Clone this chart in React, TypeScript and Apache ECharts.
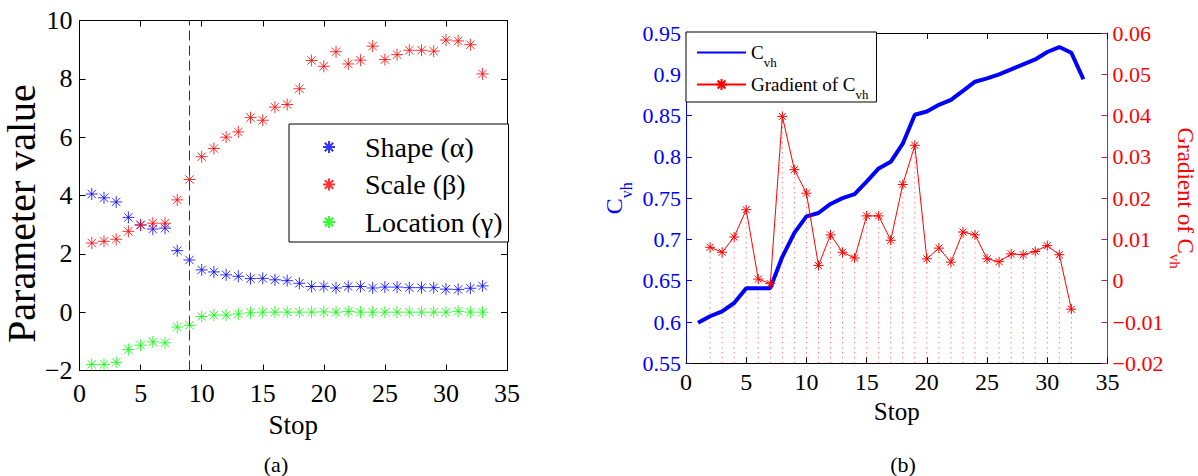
import { useEffect, useRef } from 'react';
import * as echarts from 'echarts';

const FONT = 'Liberation Serif';

// Panel (a): Weibull parameters per stop
const STOPS = [1,2,3,4,5,6,7,8,9,10,11,12,13,14,15,16,17,18,19,20,21,22,23,24,25,26,27,28,29,30,31,32,33];
const SHAPE = [4.05,3.92,3.78,3.25,2.99,2.85,2.88,2.11,1.79,1.45,1.38,1.28,1.23,1.15,1.16,1.11,1.08,0.99,0.88,0.88,0.83,0.88,0.88,0.83,0.86,0.86,0.84,0.84,0.84,0.79,0.78,0.82,0.90];
const SCALE = [2.37,2.43,2.50,2.77,2.99,3.05,3.05,3.85,4.55,5.33,5.61,6.00,6.18,6.67,6.58,7.03,7.12,7.66,8.63,8.43,8.93,8.51,8.64,9.12,8.66,8.83,8.98,8.98,8.95,9.33,9.30,9.17,8.17];
const LOCATION = [-1.79,-1.79,-1.72,-1.28,-1.13,-1.02,-1.05,-0.51,-0.45,-0.15,-0.10,-0.10,-0.06,-0.02,0,0,0,0,0,0.01,0,0.02,0,0,0,0,0,0,0,0,0.03,0,0];
const SPLIT_STOP = 9;
const SERIES_A = ['Shape (α)', 'Scale (β)', 'Location (γ)'];

// Panel (b): C_vh and its gradient
const CVH_STOPS = [1,2,3,4,5,6,7,8,9,10,11,12,13,14,15,16,17,18,19,20,21,22,23,24,25,26,27,28,29,30,31,32,33];
const CVH = [0.599,0.607,0.613,0.623,0.641,0.641,0.641,0.679,0.708,0.728,0.732,0.743,0.750,0.755,0.770,0.786,0.794,0.816,0.851,0.855,0.863,0.869,0.880,0.891,0.895,0.900,0.906,0.912,0.918,0.927,0.933,0.926,0.894];
const GRAD_STOPS = [2,3,4,5,6,7,8,9,10,11,12,13,14,15,16,17,18,19,20,21,22,23,24,25,26,27,28,29,30,31,32];
const GRAD = [0.0081,0.0069,0.0106,0.0172,0.0004,-0.0007,0.0398,0.0269,0.0212,0.0037,0.0111,0.0069,0.0055,0.0157,0.0157,0.0098,0.0233,0.0328,0.0053,0.0079,0.0045,0.0118,0.0111,0.0053,0.0046,0.0065,0.0063,0.0071,0.0085,0.0063,-0.0069];

// Axis ranges
const STOP_MIN = 0, STOP_MAX = 35, STOP_STEP = 5;
const PARAM_MIN = -2, PARAM_MAX = 10, PARAM_STEP = 2;
const CVH_MIN = 0.55, CVH_MAX = 0.95, CVH_STEP = 0.05;
const GRAD_MIN = -0.02, GRAD_MAX = 0.06, GRAD_STEP = 0.01;

const STAR = 'path://M10 0L10 20M0 10L20 10M3 3L17 17M3 17L17 3';
const fmt = (v: number) => String(Number(v.toFixed(4))).replace('-', '\u2212');

export default function App() {
  const ref = useRef<HTMLDivElement>(null);
  useEffect(() => {
    if (!ref.current) return;
    const chart = echarts.init(ref.current, undefined, { renderer: 'svg' });

    const tickIn = (color: string) => ({ show: true, inside: true, length: 6, lineStyle: { color, width: 1 } });
    const line = (color: string) => ({ show: true, onZero: false, lineStyle: { color, width: 1 } });
    const label = (fs: number, color: string, margin: number) => ({ fontFamily: FONT, fontSize: fs, color, margin, formatter: fmt });
    const stopAxis = (grid: number, pos: 'bottom' | 'top', labels: boolean, fs: number, nfs: number, margin: number, nameGap: number) => ({
      type: 'value', gridIndex: grid, position: pos, min: STOP_MIN, max: STOP_MAX, interval: STOP_STEP,
      axisLine: line('#000'), axisTick: tickIn('#000'), splitLine: { show: false },
      axisLabel: { show: labels, ...label(fs, '#000', margin) },
      name: labels ? 'Stop' : '', nameLocation: 'middle', nameGap,
      nameTextStyle: { fontFamily: FONT, fontSize: nfs, color: '#000' },
    });

    // subscript: tokens are centred in the line, so push the small token down with top padding
    const subRich = (color: string, big: number, small: number, pad: number) => ({
      n: { fontFamily: FONT, fontSize: big, color },
      s: { fontFamily: FONT, fontSize: small, color, padding: [pad, 0, 0, 0] },
    });

    const option: any = {
      animation: false,
      backgroundColor: '#fff',
      textStyle: { fontFamily: FONT },
      grid: [
        { left: 75, top: 20.5, width: 432, height: 350 },
        { left: 686, top: 33, width: 424.7, height: 330.3 },
      ],
      xAxis: [
        stopAxis(0, 'bottom', true, 26, 27, 10, 29),
        stopAxis(0, 'top', false, 26, 27, 10, 0),
        stopAxis(1, 'bottom', true, 24, 25, 7, 33),
        stopAxis(1, 'top', false, 24, 25, 7, 0),
      ],
      yAxis: [
        {
          type: 'value', gridIndex: 0, position: 'left', min: PARAM_MIN, max: PARAM_MAX, interval: PARAM_STEP,
          axisLine: line('#000'), axisTick: tickIn('#000'), splitLine: { show: false },
          axisLabel: label(26, '#000', 7),
          name: 'Parameter value', nameLocation: 'middle', nameGap: 36,
          nameTextStyle: { fontFamily: FONT, fontSize: 40, color: '#000', padding: [0, 36, 0, 0] },
        },
        {
          type: 'value', gridIndex: 0, position: 'right', min: PARAM_MIN, max: PARAM_MAX, interval: PARAM_STEP,
          axisLine: line('#000'), axisTick: tickIn('#000'), splitLine: { show: false }, axisLabel: { show: false },
        },
        {
          type: 'value', gridIndex: 1, position: 'left', min: CVH_MIN, max: CVH_MAX, interval: CVH_STEP,
          axisLine: line('#0000ff'), axisTick: tickIn('#0000ff'), splitLine: { show: false },
          axisLabel: label(22, '#0000ff', 5),
          name: '{n|C}{s|vh}', nameLocation: 'middle', nameGap: 52,
          nameTextStyle: { fontFamily: FONT, color: '#0000ff', rich: subRich('#0000ff', 24, 16, 24) },
        },
        {
          type: 'value', gridIndex: 1, position: 'right', min: GRAD_MIN, max: GRAD_MAX, interval: GRAD_STEP,
          axisLine: line('#a8227e'), axisTick: tickIn('#a8227e'), splitLine: { show: false },
          axisLabel: label(22, '#ff0000', 5),
          name: '{n|Gradient of C}{s|vh}', nameLocation: 'middle', nameGap: 60, nameRotate: -90,
          nameTextStyle: { fontFamily: FONT, color: '#ff0000', rich: subRich('#ff0000', 23, 15, 21) },
        },
      ],
      legend: [
        {
          data: SERIES_A, orient: 'vertical', left: 289, top: 124, padding: [9, 6, 6, 33], itemGap: 9.5,
          itemWidth: 12, itemHeight: 12, borderColor: '#000', borderWidth: 1, borderRadius: 0,
          backgroundColor: '#fff', selectedMode: false,
          textStyle: { fontFamily: FONT, fontSize: 28, color: '#000', padding: [0, 0, 0, 25] },
        },
        {
          data: ['Cvh', 'Gradient of Cvh'], orient: 'vertical', left: 686, top: 32, padding: [11, 8, 1, 10], itemGap: 6,
          itemWidth: 49, itemHeight: 14, borderColor: '#000', borderWidth: 1, borderRadius: 0,
          backgroundColor: '#fff', selectedMode: false,
          textStyle: { fontFamily: FONT, fontSize: 19, color: '#000', rich: subRich('#000', 19, 13, 20) },
          formatter: (n: string) => (n === 'Cvh' ? '{n|C}{s|vh}' : '{n|Gradient of C}{s|vh}'),
        },
      ],
      graphic: [
        { type: 'text', x: 276, y: 464, style: { text: '(a)', fontFamily: FONT, fontSize: 22, fill: '#000', align: 'center', verticalAlign: 'middle' } },
        { type: 'text', x: 903, y: 464, style: { text: '(b)', fontFamily: FONT, fontSize: 22, fill: '#000', align: 'center', verticalAlign: 'middle' } },
      ],
      series: [
        {
          type: 'scatter', name: SERIES_A[0], xAxisIndex: 0, yAxisIndex: 0,
          data: STOPS.map((s, i) => [s, SHAPE[i]]), symbol: STAR, symbolSize: 12,
          itemStyle: { color: '#0000ff', borderColor: '#0000ff', borderWidth: 1 },
          markLine: {
            silent: true, symbol: ['none', 'none'], label: { show: false },
            lineStyle: { color: '#333', type: [10, 5], width: 1 },
            data: [{ xAxis: SPLIT_STOP }],
          },
        },
        {
          type: 'scatter', name: SERIES_A[1], xAxisIndex: 0, yAxisIndex: 0,
          data: STOPS.map((s, i) => [s, SCALE[i]]), symbol: STAR, symbolSize: 12,
          itemStyle: { color: '#ff0000', borderColor: '#ff0000', borderWidth: 1 },
        },
        {
          type: 'scatter', name: SERIES_A[2], xAxisIndex: 0, yAxisIndex: 0,
          data: STOPS.map((s, i) => [s, LOCATION[i]]), symbol: STAR, symbolSize: 12,
          itemStyle: { color: '#00ff00', borderColor: '#00ff00', borderWidth: 1 },
        },
        {
          type: 'custom', name: 'stems', xAxisIndex: 2, yAxisIndex: 3,
          data: GRAD_STOPS.map((s, i) => [s, GRAD[i]]),
          renderItem: (_p: any, api: any) => {
            const x = api.value(0), y = api.value(1);
            const a = api.coord([x, GRAD_MIN]);
            const b = api.coord([x, y]);
            return { type: 'line', shape: { x1: a[0], y1: a[1], x2: b[0], y2: b[1] }, style: { stroke: '#ff0000', lineWidth: 1, lineDash: [1, 4], opacity: 0.75 } };
          },
        },
        {
          type: 'line', name: 'Cvh', xAxisIndex: 2, yAxisIndex: 2,
          data: CVH_STOPS.map((s, i) => [s, CVH[i]]), symbol: 'circle', showSymbol: false, symbolSize: 0,
          lineStyle: { color: '#0000ff', width: 4 }, itemStyle: { color: 'rgba(0,0,0,0)' },
        },
        {
          type: 'line', name: 'Gradient of Cvh', xAxisIndex: 2, yAxisIndex: 3,
          data: GRAD_STOPS.map((s, i) => [s, GRAD[i]]), symbol: STAR, symbolSize: 10, showSymbol: true,
          lineStyle: { color: '#ff0000', width: 1 },
          itemStyle: { color: '#ff0000', borderColor: '#ff0000', borderWidth: 1 },
        },
      ],
    };
    chart.setOption(option);
    return () => chart.dispose();
  }, []);
  return <div ref={ref} style={{ position: 'fixed', left: 0, top: 0, width: 1198, height: 476, background: '#fff' }} />;
}
